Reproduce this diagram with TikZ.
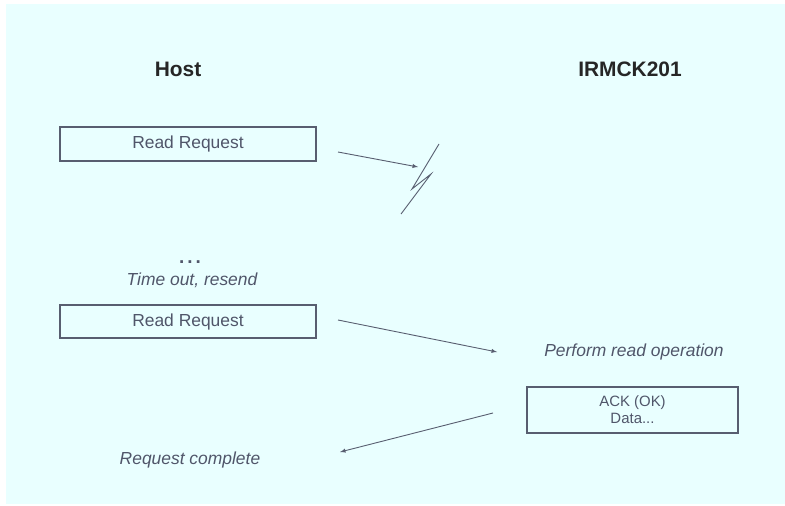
\documentclass[tikz,border=0pt]{standalone}
\usepackage{fontspec}
\setmainfont{Liberation Sans}
\usetikzlibrary{shapes,arrows,calc,positioning,backgrounds}

\definecolor{bgcyan}{RGB}{233,255,255}
\definecolor{inkgray}{RGB}{80,86,106}
\definecolor{linegray}{RGB}{88,94,112}

\tikzset{
  heading/.style={font=\fontsize{21}{25}\selectfont\bfseries, text=black!85},
  msgbox/.style={draw=linegray, line width=1.3bp, minimum width=256bp,
    minimum height=34bp, inner sep=0pt, text=inkgray,
    font=\fontsize{17.5}{21}\selectfont},
  note/.style={text=inkgray, font=\fontsize{17.5}{21}\selectfont\itshape},
  msg/.style={draw=linegray, line width=0.9bp, -latex},
  bolt/.style={draw=linegray, line width=0.9bp},
}

\begin{document}
\begin{tikzpicture}[x=1bp,y=-1bp,execute at end picture=%
  {
    \begin{pgfonlayer}{background}
      \path[fill=bgcyan]
      ($(current bounding box.north west)+(6,4)$) rectangle
      ($(current bounding box.south east)+(0,-2)$);
    \end{pgfonlayer}
  }]
  \useasboundingbox (0,0) rectangle (785,506);

  % lanes
  \node[heading] (host) at (178,69) {Host};
  \node[heading] (irmck) at (630,69) {IRMCK201};

  % first try, lost
  \node[msgbox] (req1) at (188,144) {Read Request};
  \coordinate (s1) at (338,152);
  \coordinate (lost) at (418,167);
  \draw[msg] (s1) -- (lost);
  \draw[bolt] (439,144) -- (412,189) -- (431,174) -- (401,214);

  % resend
  \node[text=inkgray, font=\fontsize{19}{21}\selectfont\bfseries] (dots) at (190,262) {.\kern3bp.\kern3bp.};
  \node[note] (timeout) at (192,280) {Time out, resend};
  \node[msgbox, minimum height=33bp] (req2) at (188,321.5) {Read Request};
  \node[note] (perform) at (634,352) {Perform read operation};
  \coordinate (s2) at (338,320);
  \coordinate (e2) at (497,352);
  \draw[msg] (s2) -- (e2);

  % answer
  \node[msgbox, minimum width=211bp, minimum height=46bp, align=center,
    font=\fontsize{15}{17}\selectfont] (ack) at (632.5,410) {ACK (OK)\\Data...};
  \node[note] (done) at (190,460) {Request complete};
  \coordinate (s3) at (493,413);
  \coordinate (e3) at (340,452);
  \draw[msg] (s3) -- (e3);
\end{tikzpicture}
\end{document}
